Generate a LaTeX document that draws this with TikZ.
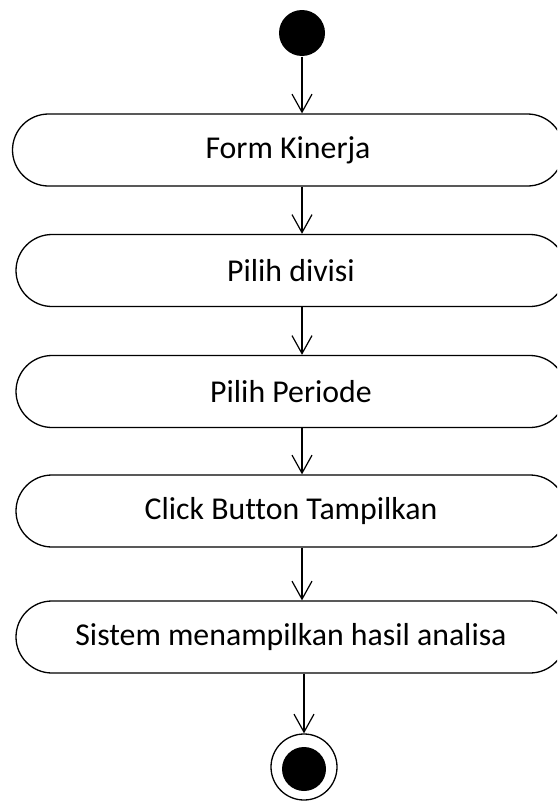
\documentclass[tikz,border=0pt]{standalone}
\usepackage{fontspec}
\setmainfont{Carlito}[Ligatures=NoCommon]
\usetikzlibrary{arrows.meta}
\begin{document}
\begin{tikzpicture}[x=1pt,y=-1pt,
  line width=1.3pt,
  action/.style={draw, rectangle, rounded corners=36pt, minimum height=72pt,
    inner sep=0pt, font=\fontsize{31.8}{38}\selectfont},
  flow/.style={-{Straight Barb[length=18pt,width=20pt,line width=1.2pt]}}
]
\clip (0,0) rectangle (557,803);
\useasboundingbox (0,0) rectangle (557,803);

% start and end states
\node[circle, fill=black, minimum size=46pt, inner sep=0pt] (start) at (302,33) {};
\node[circle, draw, minimum size=66pt, inner sep=0pt] (endo) at (304,767) {};
\node[circle, fill=black, minimum size=44pt, inner sep=0pt] (endi) at (304,769) {};

% activities
\node[action, minimum width=551pt] (b1) at (288,150) {Form Kinerja};
\node[action, minimum width=550pt] (b2) at (291,270.5) {Pilih divisi};
\node[action, minimum width=550pt] (b3) at (291,391.5) {Pilih Periode};
\node[action, minimum width=550pt] (b4) at (291,511) {Click Button Tampilkan};
\node[action, minimum width=550pt] (b5) at (291,637) {Sistem menampilkan hasil analisa};

% control flow
\draw[flow] (start.south) -- (start.south |- b1.north);
\draw[flow] (b1.south -| start) -- (b2.north -| start);
\draw[flow] (b2.south -| start) -- (b3.north -| start);
\draw[flow] (b3.south -| start) -- (b4.north -| start);
\draw[flow] (b4.south -| start) -- (b5.north -| start);
\draw[flow] (b5.south -| endo) -- (endo.north);
\end{tikzpicture}
\end{document}
